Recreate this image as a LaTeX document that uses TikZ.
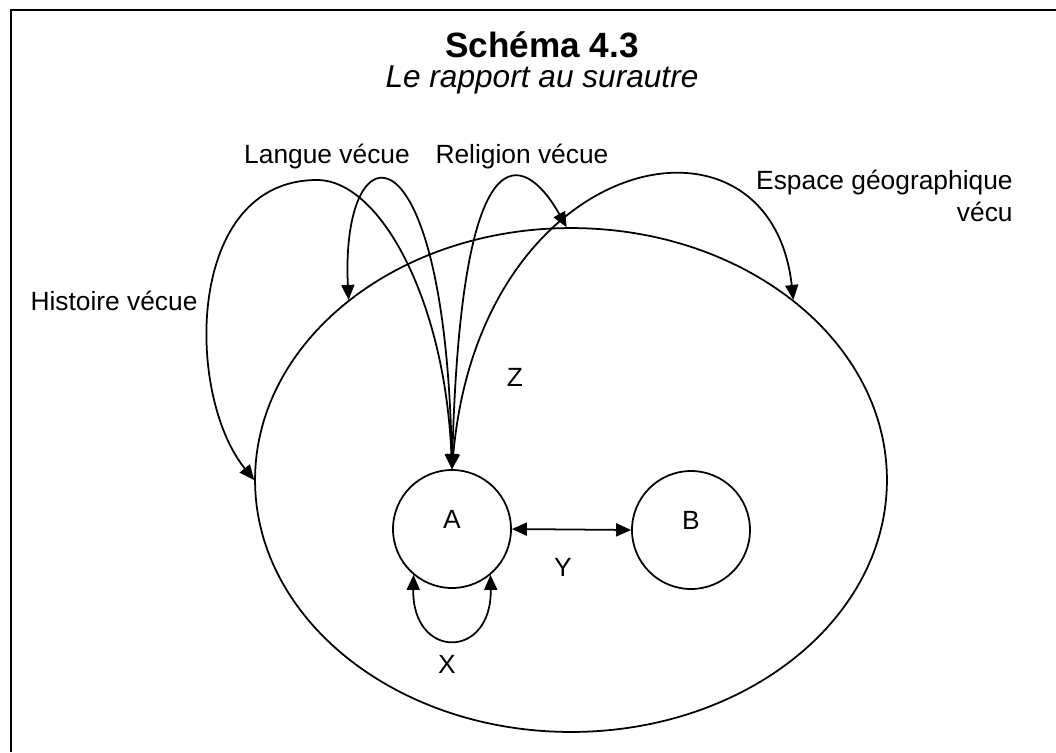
\documentclass[tikz,border=0pt]{standalone}
\usepackage{fontspec}
\setmainfont{Liberation Sans}
\usetikzlibrary{shapes.geometric,arrows.meta}

\begin{document}
\begin{tikzpicture}[x=0.02cm,y=-0.02cm,
    font=\fontsize{15pt}{18pt}\selectfont,
    cercle/.style={draw,circle,line width=1pt,minimum size=2.36cm,inner sep=0pt},
    fleche/.style={line width=1pt,{Triangle[length=3mm,width=2.6mm]}-{Triangle[length=3mm,width=2.6mm]}}]
  \useasboundingbox (0,0) rectangle (1056,752);

  % cadre, coupe a droite et en bas
  \draw[line width=1pt] (1056,10) -- (11,10) -- (11,752);

  % titre
  \node[font=\fontsize{20pt}{24pt}\selectfont\bfseries,inner sep=0pt] (titre) at (542,45) {Schéma 4.3};
  \node[font=\fontsize{18pt}{22pt}\selectfont\itshape,inner sep=0pt] (soustitre) at (542,80) {Le rapport au surautre};

  % Z: le milieu
  \node[draw,ellipse,line width=1pt,minimum width=12.64cm,minimum height=10.08cm,inner sep=0pt] (milieu) at (571,480) {};
  \node (z) at (515,377) {Z};

  % A et B
  \node[cercle,label={[yshift=2mm]center:A}] (A) at (452,529) {};
  \node[cercle,label={[yshift=2mm]center:B}] (B) at (691,530) {};
  \draw[fleche] (A.east) -- (B.west);
  \node (y) at (563,567) {Y};
  \draw[fleche] (A.230) .. controls (412,660) and (492,660) .. (A.310);
  \node (x) at (447,664) {X};

  % le vecu
  \node (histoire) at (114,301) {Histoire vécue};
  \node (langue) at (327,157) {Langue vécue};
  \node (religion) at (522,157) {Religion vécue};
  \node[anchor=north east,align=right,inner sep=0pt] (espace) at (1013,170) {Espace géographique\\vécu};
  \draw[fleche] (A.north) .. controls (445,300) and (380,180) .. (317,180)
    .. controls (185,180) and (185,395) .. (milieu.180);
  \draw[fleche] (A.north) .. controls (445,115) and (340,125) .. (milieu.141);
  \draw[fleche] (A.north) .. controls (462,100) and (532,165) .. (milieu.91);
  \draw[fleche] (A.north) .. controls (480,150) and (770,90) .. (milieu.39.5);
\end{tikzpicture}
\end{document}
